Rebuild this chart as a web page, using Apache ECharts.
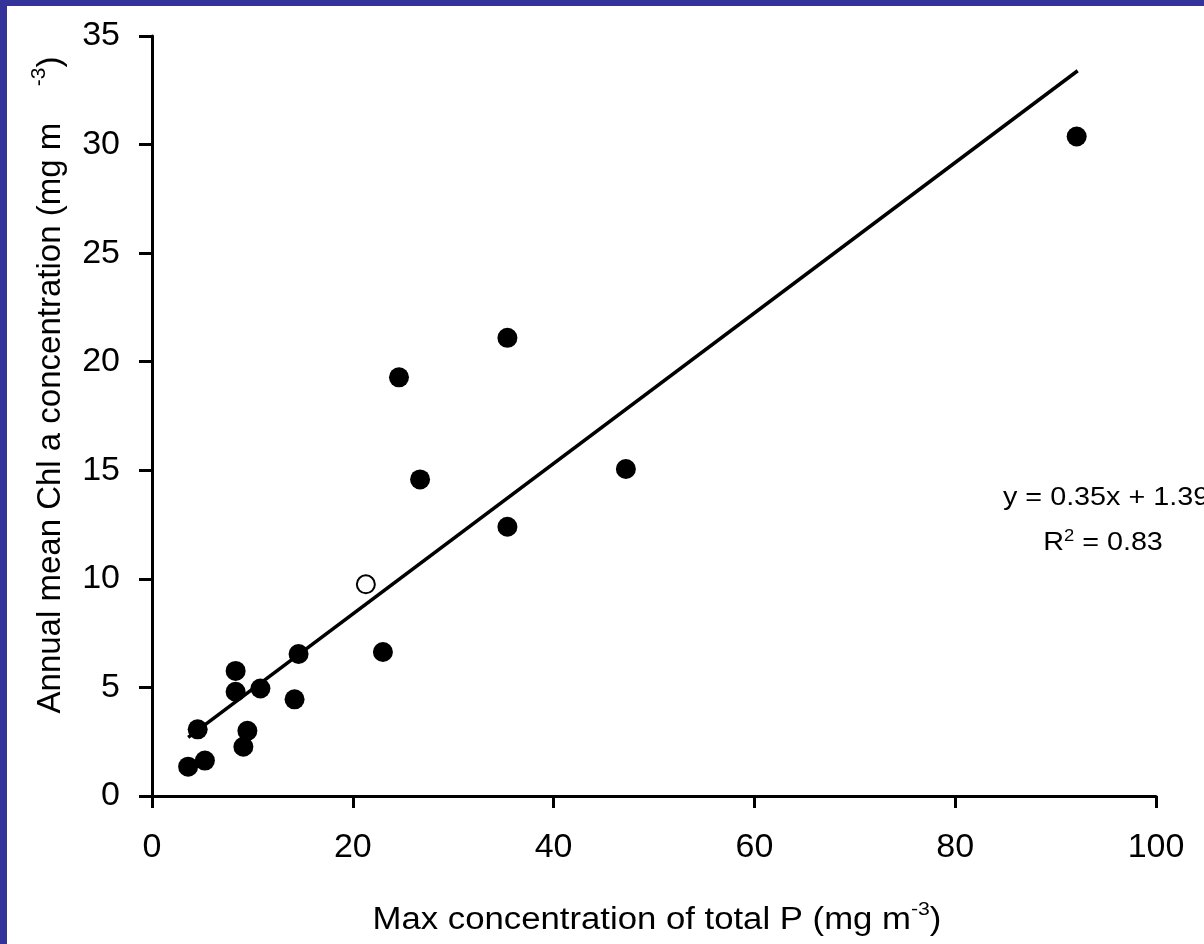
<!DOCTYPE html>
<html>
<head>
<meta charset="utf-8">
<script src="https://cdn.jsdelivr.net/npm/echarts@6/dist/echarts.min.js"></script>
<style>
html,body{margin:0;padding:0;background:#333399;width:1204px;height:944px;overflow:hidden;}
#c{position:absolute;left:7px;top:6px;width:1197px;height:938px;background:#fff;}
</style>
</head>
<body>
<div id="c"></div>
<script>
// Filled points: Max total P (x) vs annual mean Chl a (y)
const filledX = [3.6, 4.55, 5.27, 8.33, 8.33, 9.1, 9.5, 10.8, 14.2, 14.6, 23.0, 24.6, 26.7, 35.4, 35.4, 47.2, 92.1];
const filledY = [1.35, 3.07, 1.63, 5.76, 4.80, 2.27, 3.0, 4.95, 4.45, 6.54, 6.63, 19.28, 14.58, 21.1, 12.40, 15.06, 30.37];
// Open point
const openX = [21.3];
const openY = [9.75];
// Trend line end points (y = 0.35x + 1.39)
const trendX = [3.6, 92.2];
const trendY = [2.7, 33.4];
const xTicks = [0, 20, 40, 60, 80, 100];
const yTicks = [0, 5, 10, 15, 20, 25, 30, 35];
const eqText = 'y = 0.35x + 1.39';
const r2Text = '0.83';

const font = '"Liberation Sans", Arial, sans-serif';
const chart = echarts.init(document.getElementById('c'), null, {renderer: 'canvas'});
const zip = (a, b) => a.map((v, i) => [v, b[i]]);

chart.setOption({
  animation: false,
  backgroundColor: '#fff',
  grid: {left: 145, right: 48, top: 30, bottom: 148},
  xAxis: {
    type: 'value', min: xTicks[0], max: xTicks[xTicks.length - 1], interval: 20,
    axisLine: {show: true, onZero: false, lineStyle: {color: '#000', width: 3}},
    axisTick: {show: true, inside: false, length: 12, lineStyle: {color: '#000', width: 3}},
    splitLine: {show: false},
    axisLabel: {color: '#000', fontFamily: font, fontSize: 34, margin: 35}
  },
  yAxis: {
    type: 'value', min: yTicks[0], max: yTicks[yTicks.length - 1], interval: 5,
    axisLine: {show: true, onZero: false, lineStyle: {color: '#000', width: 3}},
    axisTick: {show: true, inside: false, length: 13, lineStyle: {color: '#000', width: 3}},
    splitLine: {show: false},
    axisLabel: {color: '#000', fontFamily: font, fontSize: 34, margin: 32}
  },
  series: [
    {
      type: 'line', data: zip(trendX, trendY), showSymbol: false, symbol: 'none',
      lineStyle: {color: '#000', width: 3.5}, z: 2, silent: true
    },
    {
      type: 'scatter', data: zip(filledX, filledY), symbol: 'circle', symbolSize: 20,
      itemStyle: {color: '#000', opacity: 1}, z: 3
    },
    {
      type: 'scatter', data: zip(openX, openY), symbol: 'circle', symbolSize: 18,
      itemStyle: {color: '#fff', borderColor: '#000', borderWidth: 2, opacity: 1}, z: 3
    }
  ],
  graphic: [
    {
      type: 'text', x: 650, y: 912, scaleX: 1.12,
      style: {
        text: '{n|Max concentration of total P (mg m}{s|-3}{n|)}',
        align: 'center', verticalAlign: 'middle',
        rich: {
          n: {fontFamily: font, fontSize: 31, fill: '#000', verticalAlign: 'bottom'},
          s: {fontFamily: font, fontSize: 19, fill: '#000', verticalAlign: 'bottom', padding: [0, 0, 16, 0]}
        }
      }
    },
    {
      type: 'text', x: 41, y: 379, rotation: Math.PI / 2,
      style: {
        text: '{n|Annual mean Chl a concentration (mg m    }{s|-3}{n|)}',
        align: 'center', verticalAlign: 'middle',
        rich: {
          n: {fontFamily: font, fontSize: 33, fill: '#000', verticalAlign: 'bottom'},
          s: {fontFamily: font, fontSize: 21, fill: '#000', verticalAlign: 'bottom', padding: [0, 0, 17, 0]}
        }
      }
    },
    {
      type: 'text', x: 996, y: 492, scaleX: 1.15,
      style: {text: eqText, align: 'left', verticalAlign: 'middle', fontFamily: font, fontSize: 25, fill: '#000'}
    },
    {
      type: 'text', x: 1096, y: 536, scaleX: 1.15,
      style: {
        text: '{n|R}{s|2}{n| = ' + r2Text + '}', align: 'center', verticalAlign: 'middle',
        rich: {
          n: {fontFamily: font, fontSize: 25, fill: '#000', verticalAlign: 'bottom'},
          s: {fontFamily: font, fontSize: 16, fill: '#000', verticalAlign: 'bottom', padding: [0, 0, 11, 0]}
        }
      }
    }
  ]
});
</script>
</body>
</html>
